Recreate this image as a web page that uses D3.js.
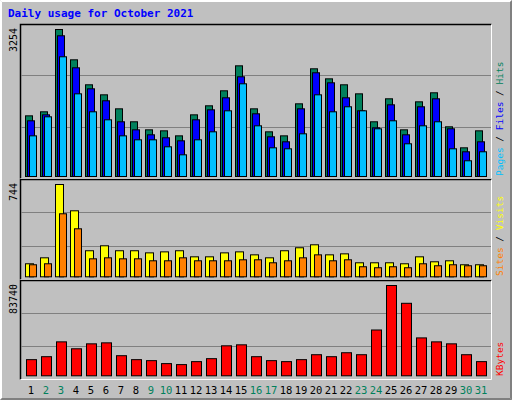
<!DOCTYPE html>
<html>
<head>
<meta charset="utf-8">
<script src="https://cdn.jsdelivr.net/npm/d3@7"></script>
<style>
  body { margin: 0; background: #fff; }
  text { font-family: "DejaVu Sans Mono", monospace; }
</style>
</head>
<body>
<svg id="chart" width="512" height="400"></svg>
<script>
(function () {

    // data
    var days = d3.range(1, 32);
    var weekend = [2, 3, 9, 10, 16, 17, 23, 24, 30, 31];
    var hits = [1343, 1432, 3254, 2583, 2030, 1808, 1498, 1211, 1033, 1011, 900, 1365, 1565, 1897, 2450, 1498,
        989, 900, 1609, 2384, 2162, 2030, 1830, 1211, 1720, 1033, 1653, 1853, 1100, 635, 1011];
    var files = [1233, 1365, 3115, 2406, 1941, 1676, 1211, 1033, 923, 857, 790, 1255, 1476, 1742, 2207, 1388,
        879, 768, 1498, 2296, 2074, 1742, 1454, 1078, 1587, 923, 1543, 1720, 1056, 547, 768];
    var pages = [900, 1321, 2650, 1830, 1432, 1255, 900, 812, 812, 657, 480, 812, 989, 1454, 2052, 1122,
        635, 613, 945, 1808, 1432, 1543, 1454, 1056, 1233, 724, 1122, 1211, 613, 348, 547];
    var visits = [105, 153, 744, 532, 210, 250, 210, 210, 193, 201, 210, 161, 161, 193, 201, 177,
        153, 210, 234, 258, 177, 185, 113, 113, 113, 105, 161, 121, 129, 97, 97];
    var sites = [97, 105, 508, 387, 145, 153, 145, 145, 129, 129, 153, 129, 129, 129, 137, 137,
        113, 129, 153, 177, 129, 137, 81, 73, 81, 73, 105, 89, 97, 89, 89];
    var kbytes = [14975, 17725, 31477, 25059, 29643, 30560, 18642, 14975, 14058, 11307, 10390, 13141, 15891, 27810, 28726, 17725,
        14058, 13141, 14975, 19558, 17725, 21392, 19558, 42478, 83740, 67232, 35144, 31477, 29643, 19558, 13141];

    var svg = d3.select("#chart");

    // background and bevel
    svg.append("rect").attr("width", 512).attr("height", 400).attr("fill", "#c0c0c0");
    svg.append("path").attr("d", "M0.5,399.5V0.5H511.5").attr("stroke", "#fff").attr("fill", "none");
    svg.append("path").attr("d", "M1.5,398.5V1.5H510.5").attr("stroke", "#fff").attr("fill", "none");
    svg.append("path").attr("d", "M0.5,399.5H511.5V0.5").attr("stroke", "#808080").attr("fill", "none");
    svg.append("path").attr("d", "M1.5,398.5H510.5V1.5").attr("stroke", "#808080").attr("fill", "none");

    svg.append("text").attr("x", 8).attr("y", 17)
        .attr("font-size", 11).attr("font-weight", "bold").attr("fill", "#0000ff")
        .text("Daily usage for October 2021");

    var x = d3.scaleLinear().domain([1, 31]).range([25, 475]);

    var panels = [
        { top: 24, bottom: 178, base: 176, max: 3254, label: "3254" },
        { top: 179, bottom: 279, base: 276.3, max: 744, label: "744" },
        { top: 280, bottom: 379, base: 375.3, max: 83740, label: "83740" }
    ];

    panels.forEach(function (p) {
        // inset frame
        svg.append("path").attr("d", "M20.5," + (p.bottom + 0.5) + "V" + (p.top + 0.5) + "H491.5")
            .attr("stroke", "#000").attr("stroke-width", 1.5).attr("fill", "none");
        svg.append("path").attr("d", "M20.5," + (p.bottom + 0.5) + "H491.5V" + (p.top + 0.5))
            .attr("stroke", "#fff").attr("fill", "none");
        var h = p.bottom - p.top;
        [1, 2].forEach(function (k) {
            var gy = Math.round(p.top + h * k / 3) + 0.5;
            svg.append("line").attr("x1", 21).attr("x2", 491).attr("y1", gy).attr("y2", gy)
                .attr("stroke", "#808080");
        });
        p.y = d3.scaleLinear().domain([0, p.max]).range([p.base, p.top + 5]);
        svg.append("text")
            .attr("transform", "translate(17," + (p.top + 4) + ") rotate(-90)")
            .attr("text-anchor", "end").attr("font-size", 10).attr("fill", "#000")
            .text(p.label);
    });

    function bars(panel, values, dx, w, color) {
        var y = panel.y;
        svg.append("g").selectAll("rect")
            .data(values)
            .enter().append("rect")
            .attr("x", function (d, i) { return x(days[i]) + dx + 0.5; })
            .attr("y", function (d) { return y(d) + 0.5; })
            .attr("width", w)
            .attr("height", function (d) { return panel.base - y(d); })
            .attr("fill", color)
            .attr("stroke", "#000");
    }

    bars(panels[0], hits, 0, 7, "#00805c");
    bars(panels[0], files, 2, 7, "#0000ff");
    bars(panels[0], pages, 4, 7, "#00c0ff");
    bars(panels[1], visits, 0, 8, "#ffff00");
    bars(panels[1], sites, 4, 7, "#ff8000");
    bars(panels[2], kbytes, 1, 10, "#ff0000");

    // day labels
    svg.append("g").selectAll("text")
        .data(days)
        .enter().append("text")
        .attr("x", function (d) { return x(d) + 6; })
        .attr("y", 394)
        .attr("text-anchor", "middle").attr("font-size", 10.5)
        .attr("fill", function (d) { return weekend.indexOf(d) >= 0 ? "#00805c" : "#000"; })
        .text(function (d) { return d; });

    // right side legends, reading bottom-up
    function legend(yBottom, parts) {
        var t = svg.append("text")
            .attr("transform", "translate(503," + yBottom + ") rotate(-90)")
            .attr("font-size", 9.5);
        parts.forEach(function (p) {
            t.append("tspan").attr("fill", p[1]).text(p[0]);
        });
    }
    legend(176, [["Pages", "#00c0ff"], [" / ", "#000"], ["Files", "#0000ff"], [" / ", "#000"], ["Hits", "#00805c"]]);
    legend(276, [["Sites", "#ff8000"], [" / ", "#000"], ["Visits", "#ffff00"]]);
    legend(376, [["KBytes", "#ff0000"]]);
})();
</script>
</body>
</html>
